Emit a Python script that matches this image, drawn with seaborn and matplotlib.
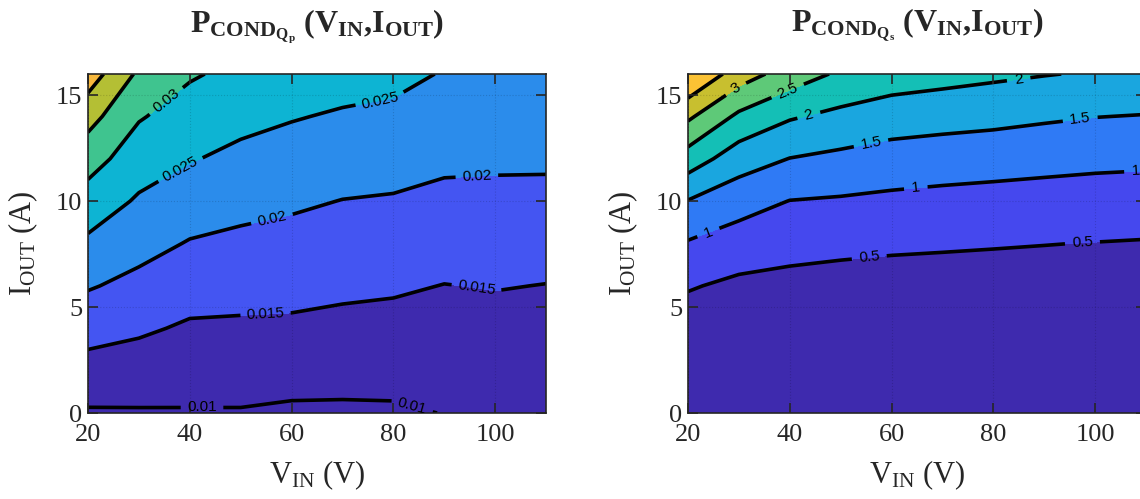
import numpy as np
import matplotlib
matplotlib.use("Agg")
import matplotlib.pyplot as plt
import seaborn as sns

# grid of the maps (columns: V_IN in V, rows: I_OUT in A)
V_IN = [20, 30, 40, 50, 60, 70, 80, 90, 100, 110]
I_OUT = [0, 2, 4, 6, 8, 10, 12, 14, 16]

# conduction loss of Qp (W)
P_COND_QP = [
    [0.0095, 0.0096, 0.0097, 0.0097, 0.0093, 0.0093, 0.0094, 0.0101, 0.0103, 0.0102],
    [0.0132, 0.0127, 0.0120, 0.0120, 0.0117, 0.0115, 0.0115, 0.0117, 0.0119, 0.0117],
    [0.0168, 0.0157, 0.0144, 0.0143, 0.0142, 0.0138, 0.0135, 0.0134, 0.0135, 0.0133],
    [0.0204, 0.0187, 0.0170, 0.0166, 0.0164, 0.0159, 0.0156, 0.0149, 0.0152, 0.0149],
    [0.0241, 0.0216, 0.0197, 0.0190, 0.0185, 0.0179, 0.0176, 0.0170, 0.0170, 0.0168],
    [0.0279, 0.0244, 0.0225, 0.0214, 0.0207, 0.0199, 0.0196, 0.0189, 0.0189, 0.0188],
    [0.0320, 0.0274, 0.0253, 0.0239, 0.0230, 0.0222, 0.0218, 0.0209, 0.0207, 0.0207],
    [0.0368, 0.0304, 0.0279, 0.0263, 0.0253, 0.0245, 0.0240, 0.0228, 0.0225, 0.0227],
    [0.0426, 0.0341, 0.0305, 0.0288, 0.0277, 0.0269, 0.0263, 0.0247, 0.0244, 0.0246],
]

# conduction loss of Qs (W)
P_COND_QS = [
    [0.00, 0.00, 0.00, 0.00, 0.00, 0.00, 0.00, 0.00, 0.00, 0.00],
    [0.06, 0.05, 0.04, 0.04, 0.04, 0.04, 0.04, 0.03, 0.03, 0.03],
    [0.24, 0.19, 0.16, 0.15, 0.14, 0.14, 0.13, 0.13, 0.13, 0.12],
    [0.54, 0.40, 0.36, 0.33, 0.32, 0.31, 0.30, 0.29, 0.28, 0.27],
    [0.96, 0.77, 0.66, 0.61, 0.57, 0.55, 0.53, 0.51, 0.49, 0.47],
    [1.48, 1.20, 0.99, 0.95, 0.90, 0.86, 0.83, 0.81, 0.79, 0.77],
    [2.27, 1.73, 1.49, 1.39, 1.29, 1.24, 1.20, 1.15, 1.11, 1.09],
    [3.09, 2.40, 2.05, 1.88, 1.75, 1.69, 1.64, 1.57, 1.51, 1.48],
    [4.04, 3.25, 2.77, 2.42, 2.25, 2.17, 2.09, 2.02, 1.96, 1.91],
]

LEVELS_QP = [0.01, 0.015, 0.02, 0.025, 0.03, 0.035, 0.04]
LEVELS_QS = [0.5, 1, 1.5, 2, 2.5, 3, 3.5]

# parula-like fill colours, lowest band first
COLORS_QP = ["#3e2aae", "#3e2aae", "#4455f2", "#2b8ceb", "#0db4d3",
             "#3fc48f", "#b4bf34", "#f7b83d"]
COLORS_QS = ["#3e2aae", "#4548ee", "#2f7af5", "#1aa6df", "#14bfb6",
             "#5ec978", "#c8bf2f", "#fbc234"]

# where the contour labels sit (like MATLAB puts them)
LABEL_AT_QP = [(35.8, 14.6), (38.4, 11.4), (77.3, 14.9), (56.2, 9.1),
               (96.4, 11.2), (54.9, 4.6), (96.4, 6.0), (42.4, 0.28),
               (83.9, 0.5)]
LABEL_AT_QS = [(29.4, 15.3), (39.5, 15.25), (43.8, 14.0), (85.0, 15.7),
               (55.9, 12.8), (97.1, 13.8), (23.8, 8.65), (64.7, 10.8),
               (108.0, 11.5), (55.6, 7.4), (97.5, 8.05)]

sns.set_style("ticks")
plt.rcParams["font.family"] = ["Liberation Serif", "DejaVu Serif"]
plt.rcParams["mathtext.fontset"] = "custom"
plt.rcParams["mathtext.rm"] = "Liberation Serif"
plt.rcParams["mathtext.it"] = "Liberation Serif:italic"
plt.rcParams["mathtext.bf"] = "Liberation Serif:bold"


def draw_map(ax, z, levels, colors, title, label_at):
    V, I = np.meshgrid(V_IN, I_OUT)
    z = np.array(z)
    fill_levels = [z.min() - 1] + levels + [z.max() + 1]
    ax.contourf(V, I, z, levels=fill_levels, colors=colors)
    cs = ax.contour(V, I, z, levels=levels, colors="k", linewidths=2.6)
    labels = ax.clabel(cs, fmt="%g", fontsize=11, inline=True,
                       inline_spacing=8, manual=label_at)
    for t in labels:
        t.set_family("Liberation Sans")

    ax.set_xlim(20, 110)
    ax.set_ylim(0, 16)
    ax.set_xticks([20, 40, 60, 80, 100])
    ax.set_yticks([0, 5, 10, 15])
    ax.grid(True, linestyle=":", color="k", alpha=0.15, linewidth=0.8)
    ax.set_axisbelow(False)
    ax.tick_params(direction="in", length=7, width=1.2, top=True, right=True,
                   labelsize=19)
    ax.tick_params(axis="x", pad=8)
    ax.tick_params(axis="y", pad=4)
    for sp in ax.spines.values():
        sp.set_linewidth(1.2)
    ax.set_xlabel(r"$\mathrm{V_{IN}}$ (V)", fontsize=22)
    ax.set_ylabel(r"$\mathrm{I_{OUT}}$ (A)", fontsize=22)
    ax.xaxis.set_label_coords(0.5, -0.135)
    ax.yaxis.set_label_coords(-0.105, 0.5)
    ax.set_title(title, fontsize=23, pad=30)


fig = plt.figure(figsize=(11.4, 4.99), dpi=100)
ax1 = fig.add_axes([0.0772, 0.1723, 0.4018, 0.6794])
ax2 = fig.add_axes([0.6035, 0.1723, 0.4018, 0.6794])

draw_map(ax1, P_COND_QP, LEVELS_QP, COLORS_QP,
         r"$\mathbf{P_{COND_{Q_p}}\ (V_{IN}{,}I_{OUT})}$", LABEL_AT_QP)
draw_map(ax2, P_COND_QS, LEVELS_QS, COLORS_QS,
         r"$\mathbf{P_{COND_{Q_s}}\ (V_{IN}{,}I_{OUT})}$", LABEL_AT_QS)

fig.savefig("out.png", dpi=100)
